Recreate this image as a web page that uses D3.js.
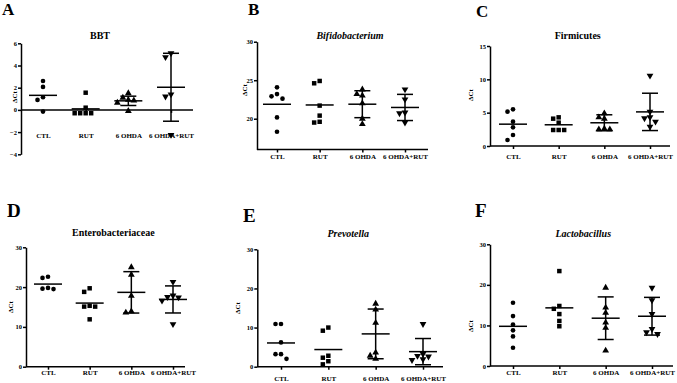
<!DOCTYPE html>
<html><head><meta charset="utf-8">
<script src="https://cdn.jsdelivr.net/npm/d3@7"></script>
<style>
html,body{margin:0;padding:0;background:#fff;}
svg text{font-family:"Liberation Serif","DejaVu Serif",serif;font-weight:bold;fill:#000;}
</style></head>
<body><svg id="chart" width="677" height="383"></svg>
<script>
// ---------- data ----------
const categories = ["CTL", "RUT", "6 OHDA", "6 OHDA+RUT"];
const titles = ["BBT", "Bifidobacterium", "Firmicutes", "Enterobacteriaceae", "Prevotella", "Lactobacillus"];
const letters = ["A", "B", "C", "D", "E", "F"];
const yLabel = "ΔCt";

const bbtValues = [[2.6, 2.07, 1.14, 0.9, -0.15], [1.55, 0.2, -0.3, -0.3, -0.3, -0.3], [1.5, 1.1, 0.9, 0.85, 0.65, -0.1], [5.1, 4.75, 1.4, 1.2, -2.25]];
const bbtErr = [null, null, 0.42, 3.06];
const bbtTicks = [-4, -2, 0, 2, 4, 6];

const bifValues = [[24.07, 23.2, 22.9, 22.6, 20.17, 18.3], [24.9, 24.6, 21.7, 20.4, 19.5, 19.6], [23.8, 23.2, 23.0, 22.0, 20.0, 19.3], [23.8, 22.5, 20.8, 20.7, 19.5]];
const bifErr = [null, null, 1.75, 1.7];
const bifTicks = [20, 25, 30];

const firValues = [[5.5, 5.15, 3.65, 2.8, 1.65, 0.9], [4.1, 4.3, 3.5, 2.4, 2.4, 2.4], [4.9, 4.3, 4.1, 2.6, 2.5, 2.5], [10.55, 5.15, 4.3, 4.15, 3.65, 2.9]];
const firErr = [null, null, 1.2, 2.8];
const firTicks = [0, 5, 10, 15];

const entValues = [[22.6, 22.3, 19.8, 19.5, 19.6], [18.8, 19.7, 15.1, 15.1, 15.3, 11.9], [25.0, 23.1, 17.8, 13.6, 13.9], [21.3, 17.9, 17.4, 17.5, 16.6, 10.7]];
const entErr = [null, null, 5.2, 3.4];
const entTicks = [0, 10, 20, 30];

const prevValues = [[10.9, 10.9, 6.2, 3.2, 3.2, 2.0], [10.0, 9.2, 2.8, 2.3, 1.4, 0.6], [16.1, 14.6, 11.2, 3.6, 2.8, 2.0], [10.9, 3.25, 2.75, 2.6, 1.9, 1.7]];
const prevErr = [null, null, 6.35, 3.35];
const prevTicks = [0, 10, 20, 30];

const lacValues = [[15.6, 12.3, 10.2, 8.8, 7.3, 4.5], [23.4, 14.8, 14.1, 12.8, 11.1, 9.8], [19.3, 14.4, 13.1, 10.7, 9.4, 3.8], [19.3, 16.2, 12.8, 9.1, 8.3, 7.9]];
const lacErr = [null, null, 5.25, 4.65];
const lacTicks = [0, 10, 20, 30];

const domains = [[-4, 6], [16, 30], [0, 15], [0, 30], [0, 30], [0, 30]];

// ---------- layout ----------
const panels = [
  {values: bbtValues, err: bbtErr, ticks: bbtTicks, axisX: 21, yTop: 43.3, yBot: 154.3, xEnd: 193, cat: [43, 171], labelY: 137.5, title: [100, 38.5], italic: false, letter: [2, 15, 17], ylab: [15, 97]},
  {values: bifValues, err: bifErr, ticks: bifTicks, axisX: 257, yTop: 41.7, yBot: 149.5, xEnd: 428, cat: [277, 405], labelY: 158.5, title: [350, 38.5], italic: true, letter: [248, 15, 17], ylab: [245, 90]},
  {values: firValues, err: firErr, ticks: firTicks, axisX: 490, yTop: 46, yBot: 146, xEnd: 670, cat: [513, 650], labelY: 159, title: [577.7, 38.5], italic: false, letter: [476, 17, 17], ylab: [471, 95]},
  {values: entValues, err: entErr, ticks: entTicks, axisX: 26, yTop: 247.3, yBot: 366.7, xEnd: 185, cat: [48, 173], labelY: 375, title: [113.3, 236], italic: false, letter: [7, 217, 19], ylab: [11, 307]},
  {values: prevValues, err: prevErr, ticks: prevTicks, axisX: 257.3, yTop: 249.3, yBot: 366.7, xEnd: 443, cat: [281, 423], labelY: 381, title: [348.3, 237], italic: true, letter: [243, 222, 19], ylab: [238, 308]},
  {values: lacValues, err: lacErr, ticks: lacTicks, axisX: 490, yTop: 244.3, yBot: 366, xEnd: 673, cat: [513, 652], labelY: 375, title: [583.3, 237], italic: true, letter: [475, 217, 19], ylab: [471, 326]}
];

const symbolTypes = [
  {type: d3.symbolCircle, size: 17, rot: 0},
  {type: d3.symbolSquare, size: 20, rot: 0},
  {type: d3.symbolTriangle, size: 20, rot: 0},
  {type: d3.symbolTriangle, size: 20, rot: 180}
];

const svg = d3.select("#chart");
const SW = 1.5;

// simple dodge so overlapping points sit side by side
function dodge(vals, y, d) {
  const order = vals.map((v, i) => i).sort((a, b) => vals[b] - vals[a]);
  const placed = [];
  const offs = new Array(vals.length).fill(0);
  const cands = [0, -d, d, -2 * d, 2 * d, -3 * d, 3 * d];
  order.forEach(i => {
    const py = y(vals[i]);
    for (const c of cands) {
      if (placed.every(p => Math.hypot(p.x - c, p.y - py) >= d * 0.95)) {
        offs[i] = c; placed.push({x: c, y: py}); break;
      }
    }
  });
  return offs;
}

panels.forEach((p, pi) => {
  const g = svg.append("g");
  const dom = domains[pi];
  const y = d3.scaleLinear().domain(dom).range([p.yBot, p.yTop]);
  const x = d3.scalePoint().domain(categories).range(p.cat);
  const baseY = y(Math.max(0, dom[0]));

  // y axis
  const ya = g.append("g").attr("transform", `translate(${p.axisX},0)`)
    .call(d3.axisLeft(y).tickValues(p.ticks).tickSize(3).tickSizeOuter(0).tickFormat(d3.format("d")));
  ya.select(".domain").attr("stroke-width", SW);
  ya.selectAll(".tick line").attr("stroke-width", SW);
  ya.selectAll(".tick text").attr("font-size", 6.5).attr("x", -4)
    .style("font-family", '"Liberation Serif",serif').style("font-weight", "bold");

  // x axis
  const xa = g.append("g").attr("transform", `translate(0,${baseY})`)
    .call(d3.axisBottom(x).tickSize(3).tickSizeOuter(0));
  xa.select(".domain").remove();
  xa.selectAll(".tick line").attr("stroke-width", SW);
  xa.selectAll(".tick text").attr("font-size", 7).attr("y", 0).attr("dy", 0)
    .attr("transform", `translate(0,${p.labelY - baseY})`)
    .style("font-family", '"Liberation Serif",serif').style("font-weight", "bold");
  g.append("line").attr("x1", p.axisX).attr("x2", p.xEnd).attr("y1", baseY).attr("y2", baseY)
    .attr("stroke", "#000").attr("stroke-width", SW);

  // y label
  g.append("text").attr("transform", `translate(${p.ylab[0]},${p.ylab[1]}) rotate(-90)`)
    .attr("text-anchor", "middle").attr("dy", "0.35em").attr("font-size", 7).text(yLabel);

  // title
  g.append("text").attr("x", p.title[0]).attr("y", p.title[1]).attr("text-anchor", "middle")
    .attr("font-size", 10).attr("font-style", p.italic ? "italic" : "normal").text(titles[pi]);

  // letter
  g.append("text").attr("x", p.letter[0]).attr("y", p.letter[1]).attr("font-size", p.letter[2]).text(letters[pi]);

  // groups
  categories.forEach((c, ci) => {
    const vals = p.values[ci];
    const cx = x(c);
    const m = d3.mean(vals);
    const e = p.err[ci];
    if (e != null) {
      g.append("line").attr("x1", cx).attr("x2", cx).attr("y1", y(m + e)).attr("y2", y(m - e))
        .attr("stroke", "#000").attr("stroke-width", SW);
      [m + e, m - e].forEach(v => g.append("line").attr("x1", cx - 8).attr("x2", cx + 8)
        .attr("y1", y(v)).attr("y2", y(v)).attr("stroke", "#000").attr("stroke-width", SW));
    }
    g.append("line").attr("x1", cx - 14).attr("x2", cx + 14).attr("y1", y(m)).attr("y2", y(m))
      .attr("stroke", "#000").attr("stroke-width", SW);
    const offs = dodge(vals, y, 5.5);
    const s = symbolTypes[ci];
    const sym = d3.symbol().type(s.type).size(s.size);
    g.selectAll(null).data(vals).enter().append("path")
      .attr("d", sym)
      .attr("transform", (v, i) => `translate(${cx + offs[i]},${y(v)}) rotate(${s.rot})`)
      .attr("fill", "#000");
  });
});
</script></body></html>
